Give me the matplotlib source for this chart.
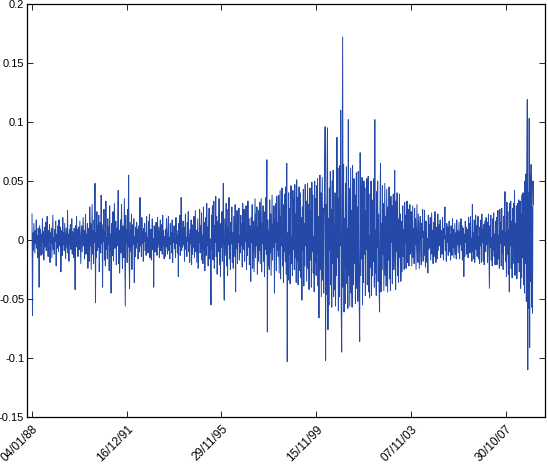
import numpy as np
import matplotlib
matplotlib.use("Agg")
import matplotlib.pyplot as plt

# daily returns, in thousandths, one value every 5 trading days
ret_k = [
    22, -64, 6, -9, 14, 2, -11, 8, -3, 17, -7, 4, -15, 10, 1, -40, 12, -5, 9, -13,
    5, -12, 18, -2, 7, -17, 3, 11, -6, 15, -9, 1, 20, -4, -14, 8, -1, 13, -19, 6,
    -3, 10, -15, 4, 21, -8, 2, -12, 9, -1, 16, -22, 5, -7, 12, 0, -10, 17, -5, 7,
    11, -27, 3, 8, -13, 19, -4, 6, -9, 14, -2, -16, 10, 1, -7, 25, -11, 5, -18, 9,
    -4, 13, -8, 2, 18, -12, 7, -1, -15, 10, 4, -42, 12, -6, 20, -3, 9, -14, 1, 11,
    -8, 16, -2, -20, 6, 12, -10, 3, 19, -5, 8, -16, 1, 22, -12, 5, -7, 14, -24, 4,
    10, -18, 28, -5, 14, -25, 3, 30, -12, 8, -20, 17, -2, 48, -53, 6, -15, 24, -9, 12,
    -6, 21, -27, 4, 15, -11, 38, -3, 9, -40, 13, -1, 26, -17, 7, -22, 33, -8, 2, -16,
    18, -4, 11, -26, 29, -9, 5, -45, 14, 2, -13, 24, -18, 6, 31, -7, -1, 16, -21, 10,
    -5, 14, 42, -20, 8, -28, 3, 17, -11, 30, -2, -24, 12, 5, -15, 35, -8, -56, 21, -3,
    9, -19, 26, -6, 55, -13, -41, 15, 1, -10, 22, -25, 7, 13, -4, 18, -36, 3, -14, 11,
    -7, 15, -2, 9, -16, 4, 12, -10, 36, -5, 1, -14, 19, -3, 7, -18, 10, -1, 14, -9,
    6, -13, 20, -4, 2, -11, 16, -7, 22, -15, 3, 9, -17, 5, 18, -8, 1, -40, 12, -2,
    -10, 7, 15, -3, -13, 19, -6, 2, 11, -15, 4, 17, -9, -1, 13, -12, 21, -5, 8, -16,
    3, -14, 9, -6, 18, -1, -12, 7, 20, -9, 2, -16, 14, -4, 6, -11, 17, -19, 5, -2,
    12, -7, 1, -15, 19, -3, 8, -11, 4, -31, 14, -5, 21, -13, -2, 36, -9, 10, -6, 16,
    -4, 11, -18, 6, 22, -8, 2, -14, 15, -1, 24, -10, 5, -19, 9, -3, 17, -21, 7, -12,
    13, -6, 20, -15, 3, 25, -10, 8, -19, 1, 18, -24, 6, -2, 26, -11, 12, -7, 23, -17,
    4, -20, 28, -9, 15, -26, 2, 19, -13, 31, -5, 11, -22, 7, 27, -16, 1, -12, -55, 21,
    -8, 29, -17, 5, 33, -24, 12, -2, 37, -14, 20, -29, 3, 16, -10, 35, -21, 8, -31, 14,
    -6, 24, -18, 9, 48, -27, -51, 18, 2, -13, 31, -22, 11, -30, 26, -4, 36, -16, 7, -25,
    15, -3, 28, -19, 6, -24, 20, 1, -14, 30, -44, 12, -7, 25, -20, 9, -2, 27, -17, 4,
    -11, 21, -5, 14, -23, 31, -8, 3, 26, -18, 10, -1, 29, -25, 7, -13, 33, -6, 18, -21,
    12, -7, -35, 19, -2, 30, -24, 8, 16, -27, 4, 35, -15, 22, -5, 28, -29, 11, -18, 25,
    -9, 32, -20, 6, 35, -27, 14, -3, 29, -18, 10, -31, 24, -8, 36, -12, 68, -78, 17, -22,
    8, -25, 34, -11, 22, -30, 3, 38, -17, 13, -6, 29, -45, 18, -2, 31, -26, 37, -9, 15,
    -14, 38, -28, 9, 42, -33, 20, -5, 44, -22, 12, -36, 30, -10, 39, -18, 45, -29, 65, -103,
    6, -34, 40, -12, 27, -37, 15, 46, -20, 3, -30, 42, -8, 35, -25, 47, -15, 22, -36, 51,
    -18, 36, -38, 10, 45, -26, 4, 40, -32, 19, -51, 28, -9, 43, -39, 14, -22, 47, -5, 33,
    -35, 12, 48, -24, 30, -42, 7, 44, -17, 25, -40, 49, -10, 38, -28, 3, -44, 50, -19, 35,
    -30, 46, -12, 52, -39, 20, -66, 14, 55, -25, 40, -48, 8, 53, -34, 27, -45, 18, 49, 96,
    -102, 30, -46, 57, 95, -76, 18, -55, 44, -9, 58, -38, 26, -57, 50, -20, 59, -48, 12, -42,
    40, -56, 22, -30, 87, -15, 61, -60, 35, -48, 63, -5, 110, -59, -95, 28, 172, -40, 64, -61,
    18, -54, 48, -22, 62, -37, 10, -58, 102, -30, 44, -56, 6, 61, -45, 25, -57, 63, -12, -38,
    52, -20, 38, -54, 15, 57, -41, 28, -52, 58, -8, -53, -86, 74, -30, 45, -16, 53, -55, 21,
    -36, 50, -12, 44, -47, 25, -8, 52, -38, 16, 54, -44, 4, -49, 39, -23, 50, -47, 11, -30,
    34, -18, 52, -40, 102, -28, 9, -47, 41, -6, 50, -35, 22, -41, -61, 30, 65, -44, 14, -25,
    46, -12, 31, -43, 7, 48, -30, 20, -39, 43, -4, -44, 28, -17, 45, -33, 11, -43, 37, -2,
    29, -37, 12, 39, -25, 5, 59, -20, -42, 33, -10, 40, -30, 18, -36, 6, 39, -15, 22, -35,
    16, -27, 5, 29, -14, 9, -25, 32, -3, 21, -24, 12, 33, -19, -1, 26, -22, 8, 30, -12,
    -7, 24, -22, 3, 29, -15, 10, -20, 27, -4, 18, -25, 6, 30, -11, -19, 22, 1, -24, 15,
    20, -9, -21, 14, 2, 26, -18, 7, -13, 25, -3, -23, 16, 9, -19, 1, -28, 21, -8, 13,
    -6, 19, -17, 4, 23, -12, 8, -20, 15, 1, -14, 24, -3, -19, 11, 5, -16, 22, -9, 2,
    13, -5, 17, -15, 2, 8, -12, 19, -3, -17, 10, 1, 28, -9, 4, -18, 14, -2, 11, -13,
    -1, 16, -10, 5, -17, 12, 3, -13, 18, -6, 9, -15, 1, 14, -12, 6, -16, 17, -4, 8,
    -11, 2, 15, -16, 7, -4, 18, -9, 12, -17, 3, 10, -31, 5, -14, 16, -2, 11, -12, 4,
    9, -15, 19, -3, 14, -11, 20, -7, 1, -18, 30, -10, 6, -16, 17, -19, 4, 21, -8, 12,
    -14, 6, 20, -16, 3, -20, 11, -5, 17, -19, 22, -2, 9, -18, 13, -21, 7, 16, -10, 19,
    -4, 15, -19, 8, 22, -13, -41, 12, -6, 21, -17, 2, -22, 18, -9, 23, -14, 5, -21, 16,
    -7, 19, -21, 10, 25, -16, 4, -24, 26, -3, 15, -22, 27, -11, 8, -25, 20, -5, 28, 41,
    -18, 6, -31, 32, -12, 24, -29, 9, -44, 31, -5, 33, -24, 16, -32, 27, -8, 31, -20, 42,
    -30, 14, -25, 29, -33, 8, 31, -19, 34, -27, 12, 33, -41, 22, -32, 38, -15, 40, -38, 26,
    -45, 50, -20, 56, -52, 60, 119, -110, 40, -58, 103, -91, 55, -35, 64, -57, 28, -62, 50, 30,
]

tick_days = [1, 1001, 2001, 3001, 4001, 5001]
tick_labels = ["04/01/88", "16/12/91", "29/11/95", "15/11/99", "07/11/03", "30/10/07"]
y_ticks = [-0.15, -0.1, -0.05, 0, 0.05, 0.1, 0.15, 0.2]
y_labels = ["-0.15", "-0.1", "-0.05", "0", "0.05", "0.1", "0.15", "0.2"]

ret = np.array(ret_k) / 1000.0
day = 1 + 5 * np.arange(len(ret))

plt.rcParams["font.family"] = ["Liberation Sans", "DejaVu Sans"]

fig = plt.figure(figsize=(5.48, 4.65), dpi=100)
ax = fig.add_axes([27 / 548, 48 / 465, 518 / 548, 413 / 465])

ax.plot(day, ret, color="#2549a8", linewidth=0.7)

ax.set_xlim(-52, 5418)
ax.set_ylim(-0.15, 0.2)
ax.set_xticks(tick_days)
ax.set_xticklabels(tick_labels, rotation=45, ha="right", va="top",
                   rotation_mode="anchor", fontsize=8.5)
ax.set_yticks(y_ticks)
ax.set_yticklabels(y_labels, fontsize=8)
ax.tick_params(direction="in", length=4, width=0.6, top=True, right=True)
ax.tick_params(axis="x", pad=4.5)
ax.tick_params(axis="y", pad=2)
for s in ax.spines.values():
    s.set_linewidth(0.9)

fig.savefig("out.png", dpi=100)
